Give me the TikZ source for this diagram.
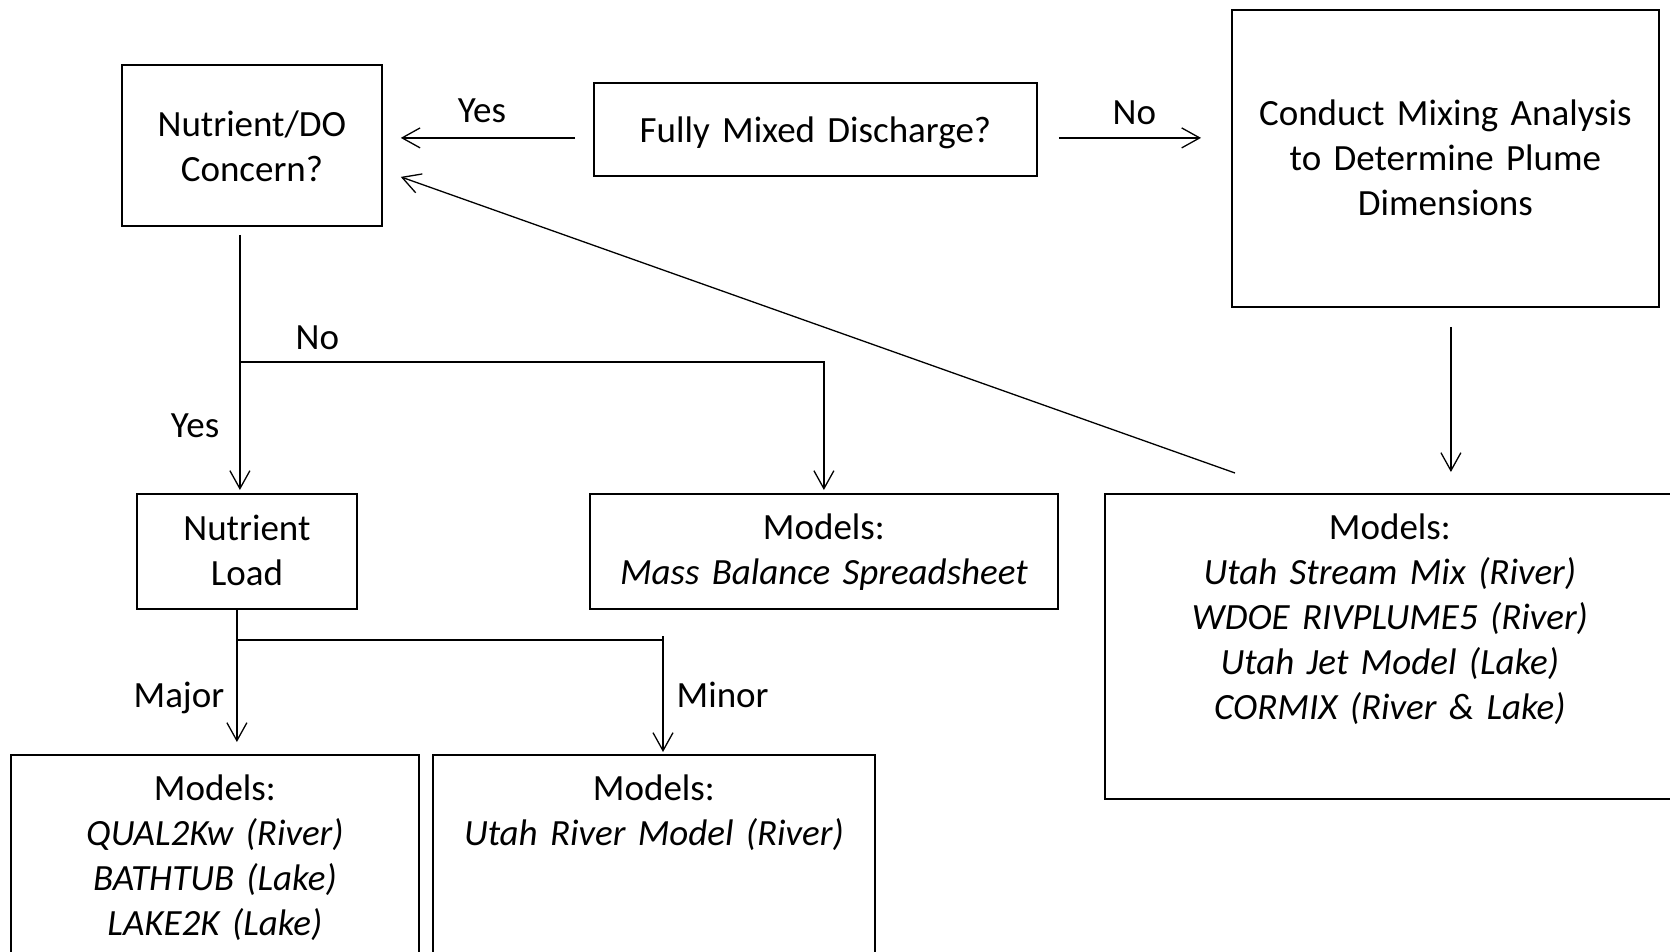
\documentclass[tikz,border=0pt]{standalone}
\usepackage{fontspec}
\setmainfont{Carlito}
\usetikzlibrary{arrows.meta,positioning,calc}

\begin{document}
\begin{tikzpicture}[x=0.5pt,y=-0.5pt,
    font=\fontsize{18.5pt}{22.5pt}\selectfont,
    box/.style={draw,line width=0.9pt,inner sep=0pt,align=center,anchor=north west},
    flow/.style={-{Straight Barb[length=9pt,width=10pt]},line width=0.65pt},
    link/.style={line width=0.65pt},
    lbl/.style={inner sep=0pt}]

  \clip (0,0) rectangle (1670,952);

  % question boxes
  \node[box,text width=130pt,text height=36pt,text depth=44.5pt] (ndo) at (121,64) {Nutrient/DO\\Concern?};
  \node[box,text width=221.5pt,text height=30pt,text depth=16.5pt] (fmix) at (593,82) {Fully Mixed Discharge?};
  \node[box,text width=213.5pt,text height=58pt,text depth=90.5pt] (mixan) at (1231,9) {Conduct Mixing Analysis\\to Determine Plume\\Dimensions};
  \node[box,text width=110pt,text height=23.5pt,text depth=34pt] (nload) at (136,493) {Nutrient\\Load};

  % model boxes
  \node[box,text width=234pt,text height=23pt,text depth=34.5pt] (mbal) at (589,493) {Models:\\\textit{Mass Balance Spreadsheet}};
  \node[box,text width=285pt,text height=23pt,text depth=129.5pt] (plume) at (1104,493) {Models:\\\textit{Utah Stream Mix (River)}\\\textit{WDOE RIVPLUME5 (River)}\\\textit{Utah Jet Model (Lake)}\\\textit{CORMIX (River \& Lake)}};
  \node[box,text width=204pt,text height=23pt,text depth=100pt] (major) at (10,754) {Models:\\\textit{QUAL2Kw (River)}\\\textit{BATHTUB (Lake)}\\\textit{LAKE2K (Lake)}};
  \node[box,text width=221pt,text height=23pt,text depth=100pt] (minor) at (432,754) {Models:\\\textit{Utah River Model (River)}};

  % top row
  \draw[flow,shorten <=9pt,shorten >=9pt] ([yshift=-4.25pt]fmix.west) -- ([yshift=-4.25pt]fmix.west -| ndo.east)
        node[lbl,midway,above=7pt,xshift=-3pt] (yes1) {Yes};
  \draw[flow,shorten <=10.5pt,shorten >=15pt] ([yshift=-4.25pt]fmix.east) -- ([yshift=-4.25pt]fmix.east -| mixan.west)
        node[lbl,midway,above=6pt] (no1) {No};
  \draw[flow,shorten <=9.5pt,shorten >=10.5pt] ([xshift=2.75pt]mixan.south) -- ([xshift=2.75pt]mixan.south |- plume.north);
  \coordinate (back) at (1235,473);
  \draw[flow] (back) -- ([xshift=9pt,yshift=-15.75pt]ndo.east);

  % nutrient / DO branch
  \coordinate (split1) at (239,362);
  \draw[flow,shorten <=4pt,shorten >=1.5pt] ([xshift=-6pt]ndo.south) -- ([xshift=-6pt]ndo.south |- nload.north)
        node[lbl,pos=0.746,left=10pt] (yes2) {Yes};
  \draw[flow,shorten >=1.5pt] (split1) -| (mbal.north)
        node[lbl,pos=0.067,above=6pt] (no2) {No};

  % load branch
  \coordinate (split2) at (236,640);
  \coordinate (minortop) at (663,636);
  \draw[flow,shorten >=6pt] ([xshift=-5pt]nload.south) -- ([xshift=-5pt]nload.south |- major.north)
        node[lbl,pos=0.61,left=6pt] (majlbl) {Major};
  \draw[link] (split2) -- (minortop |- split2);
  \draw[flow,shorten >=1pt] (minortop) -- (minortop |- minor.north)
        node[lbl,pos=0.5,right=6.5pt] (minlbl) {Minor};
\end{tikzpicture}
\end{document}
